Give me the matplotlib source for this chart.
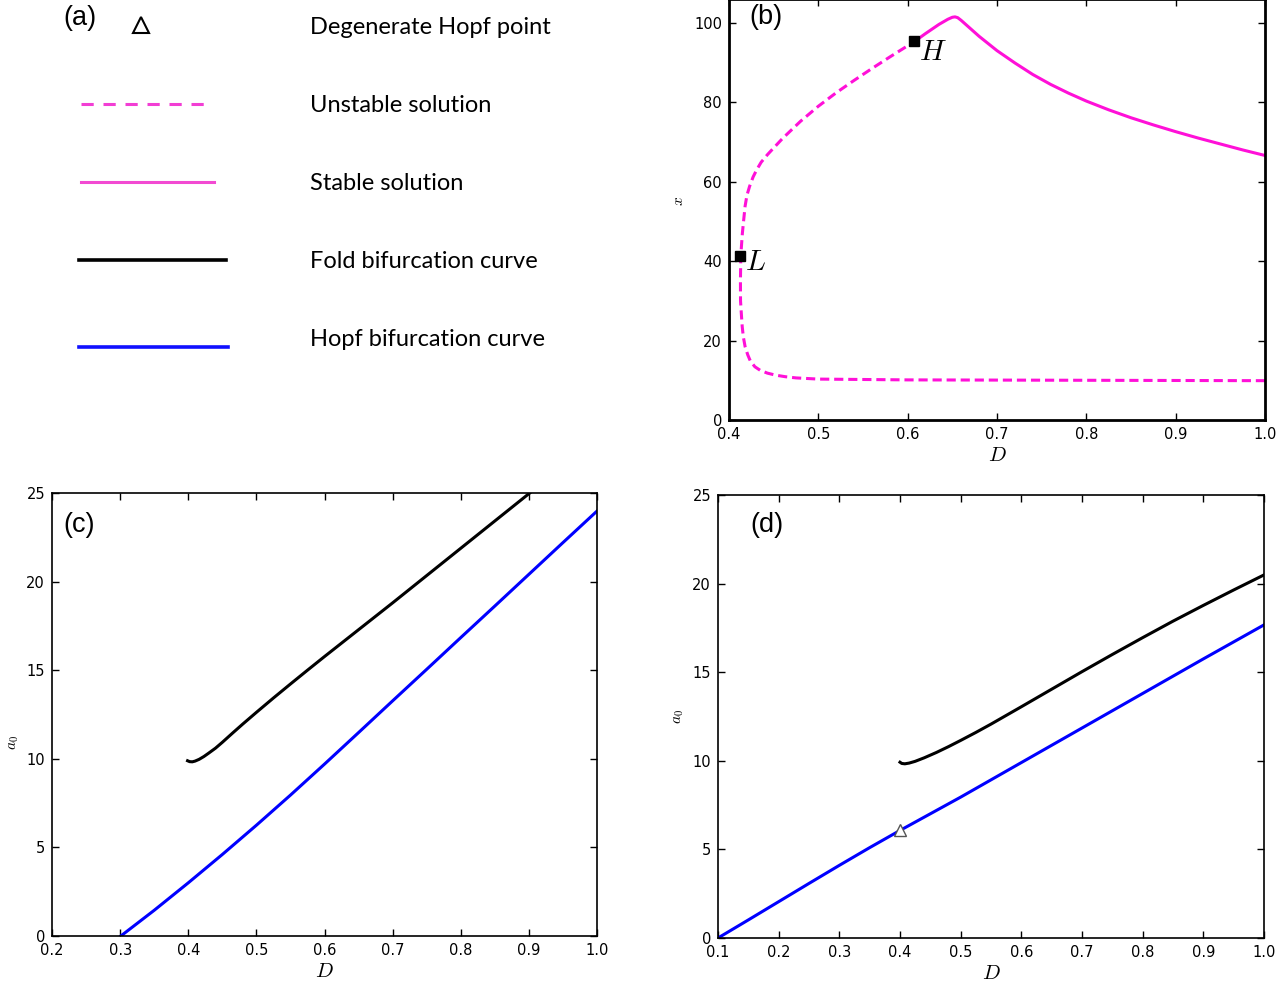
import matplotlib
matplotlib.use("Agg")
import matplotlib.pyplot as plt

plt.rcParams['mathtext.fontset'] = 'cm'
plt.rcParams['font.family'] = ['DejaVu Sans']

# ---------------- data ----------------
# panel (b): equilibrium branch x vs D
D_unstable = [1.0, 0.9, 0.8, 0.7, 0.6, 0.5, 0.475, 0.463, 0.452, 0.443, 0.435,
              0.429, 0.424, 0.421, 0.418, 0.416, 0.4148, 0.414, 0.4129, 0.4128,
              0.4132, 0.414, 0.415, 0.4165, 0.418, 0.420, 0.423, 0.427, 0.431,
              0.436, 0.443, 0.45, 0.46, 0.48, 0.50, 0.52, 0.54, 0.56, 0.58,
              0.6076]
x_unstable = [9.9, 9.95, 10.0, 10.05, 10.1, 10.3, 10.6, 10.9, 11.3, 11.8, 12.5,
              13.4, 14.8, 16.4, 18.5, 21.0, 23.5, 26.1, 30.0, 35.0,
              41.2, 44.0, 47.1, 50.5, 53.8, 56.5, 58.8, 61.2, 63.0,
              64.9, 66.8, 68.5, 70.9, 75.2, 79.0, 82.4, 85.5, 88.5, 91.4,
              95.3]
D_stable = [0.6076, 0.62, 0.635, 0.645, 0.65, 0.653, 0.656, 0.66, 0.67, 0.68,
            0.69, 0.70, 0.72, 0.74, 0.76, 0.78, 0.80, 0.825, 0.85, 0.875, 0.90,
            0.925, 0.95, 0.975, 1.0]
x_stable = [95.3, 97.3, 99.6, 100.9, 101.4, 101.5, 101.3, 100.6, 98.6, 96.6,
            94.8, 93.0, 89.9, 87.0, 84.5, 82.3, 80.3, 78.1, 76.1, 74.3, 72.6,
            71.0, 69.5, 68.0, 66.6]
special_names = ["H", "L"]
special_D = [0.6076, 0.412]
special_x = [95.3, 41.2]

# panel (c)
c_fold_D = [0.399, 0.402, 0.406, 0.41, 0.416, 0.423, 0.43, 0.44, 0.45, 0.465,
            0.48, 0.5, 0.525, 0.55, 0.575, 0.6, 0.7, 0.8, 0.9, 0.92]
c_fold_a = [9.89, 9.84, 9.83, 9.87, 9.97, 10.13, 10.32, 10.6, 10.93, 11.45,
            11.96, 12.62, 13.43, 14.22, 15.0, 15.77, 18.8, 21.88, 24.96, 25.6]
c_hopf_D = [0.301, 0.35, 0.4, 0.45, 0.5, 0.55, 0.6, 0.65, 0.7, 0.75, 0.8,
            0.85, 0.9, 0.95, 1.0]
c_hopf_a = [0.0, 1.45, 3.0, 4.6, 6.25, 7.95, 9.7, 11.48, 13.27, 15.05, 16.84,
            18.62, 20.41, 22.2, 23.98]

# panel (d)
d_fold_D = [0.4, 0.403, 0.408, 0.415, 0.425, 0.44, 0.46, 0.48, 0.5, 0.525,
            0.55, 0.6, 0.65, 0.7, 0.75, 0.8, 0.85, 0.9, 0.95, 1.0]
d_fold_a = [9.92, 9.85, 9.83, 9.87, 9.97, 10.17, 10.47, 10.8, 11.15, 11.6,
            12.07, 13.05, 14.04, 15.03, 16.0, 16.95, 17.88, 18.77, 19.64, 20.49]
d_hopf_D = [0.1, 0.15, 0.2, 0.25, 0.3, 0.35, 0.4, 0.5, 0.6, 0.7, 0.8, 0.9, 1.0]
d_hopf_a = [0.0, 1.02, 2.05, 3.08, 4.1, 5.1, 6.07, 7.95, 9.9, 11.85, 13.8,
            15.75, 17.67]
dh_D = [0.4]
dh_a = [6.07]

# legend panel (a)
legend_labels = ["Degenerate Hopf point", "Unstable solution", "Stable solution",
                 "Fold bifurcation curve", "Hopf bifurcation curve"]

MAG = '#ff10d8'
W, H = 1286, 982
fig = plt.figure(figsize=(W / 100, H / 100), dpi=100)


def add_ax(l, t, r, b):
    return fig.add_axes([l / W, 1 - b / H, (r - l) / W, (b - t) / H])


def style(ax, lw):
    for s in ax.spines.values():
        s.set_linewidth(lw)
    ax.tick_params(direction='in', top=True, right=True, length=5, width=1,
                   labelsize=10.5, pad=5)


PANEL_FONT = dict(fontsize=19.5, family='Liberation Sans', va='center', ha='left')

# ---------- panel (a): legend ----------
axa = add_ax(0, 0, 643, 491)
axa.set_xlim(0, 643)
axa.set_ylim(491, 0)
axa.axis('off')
rows_y = [28, 106, 184, 262, 340]
axa.plot([141], [25], marker='^', ms=11, mfc='white', mec='black', mew=1.5)
axa.plot([81, 204], [104, 104], color='#f23ed4', lw=2.2, dashes=(4, 3.2))
axa.plot([81, 214], [182, 182], color='#f24ad2', lw=2.2)
axa.plot([79, 226], [260, 260], color='black', lw=2.6)
axa.plot([79, 228], [347, 347], color='#1010ff', lw=2.6)
for lab, yy in zip(legend_labels, rows_y):
    axa.text(310, yy, lab, fontsize=17, family='Lato', va='center', ha='left')
fig.text(63 / W, 1 - 18 / H, '(a)', **PANEL_FONT)

# ---------- panel (b) ----------
axb = add_ax(729, -1, 1265, 420)
axb.plot(D_unstable, x_unstable, color=MAG, lw=2.2, dashes=(3, 1.6))
axb.plot(D_stable, x_stable, color=MAG, lw=2.2)
axb.plot(special_D, special_x, 's', color='black', ms=6.5, zorder=5)
offsets = [(3.5, -13), (3.5, -10)]
for nm, dx, xx, off in zip(special_names, special_D, special_x, offsets):
    axb.annotate('$' + nm + '$', (dx, xx), xytext=off, textcoords='offset points',
                 fontsize=21, va='baseline', ha='left')
axb.set_xlim(0.4, 1.0)
axb.set_ylim(0, 106)
axb.set_xticks([0.4, 0.5, 0.6, 0.7, 0.8, 0.9, 1.0])
axb.set_yticks([0, 20, 40, 60, 80, 100])
axb.set_xlabel('$D$', fontsize=15, labelpad=2)
axb.set_ylabel('$x$', fontsize=11)
axb.yaxis.set_label_coords(-43 / 536, 0.52)
style(axb, 2.0)
fig.text(749 / W, 1 - 17 / H, '(b)', **PANEL_FONT)

# ---------- panel (c) ----------
axc = add_ax(52, 493, 597, 936)
axc.plot(c_fold_D, c_fold_a, color='black', lw=2.2)
axc.plot(c_hopf_D, c_hopf_a, color='blue', lw=2.2)
axc.set_xlim(0.2, 1.0)
axc.set_ylim(0, 25)
axc.set_xticks([0.2, 0.3, 0.4, 0.5, 0.6, 0.7, 0.8, 0.9, 1.0])
axc.set_yticks([0, 5, 10, 15, 20, 25])
axc.set_xlabel('$D$', fontsize=15, labelpad=2)
axc.set_ylabel('$a_0$', fontsize=11)
axc.yaxis.set_label_coords(-31 / 545, (936 - 743) / 443)
style(axc, 1.2)
fig.text(63 / W, 1 - 525 / H, '(c)', **PANEL_FONT)

# ---------- panel (d) ----------
axd = add_ax(718, 495, 1264, 938)
axd.plot(d_fold_D, d_fold_a, color='black', lw=2.2)
axd.plot(d_hopf_D, d_hopf_a, color='blue', lw=2.2)
axd.plot(dh_D, dh_a, marker='^', ms=9, mfc='white', mec='#555555', mew=1,
         ls='none', zorder=5)
axd.set_xlim(0.1, 1.0)
axd.set_ylim(0, 25)
axd.set_xticks([0.1, 0.2, 0.3, 0.4, 0.5, 0.6, 0.7, 0.8, 0.9, 1.0])
axd.set_yticks([0, 5, 10, 15, 20, 25])
axd.set_xlabel('$D$', fontsize=15, labelpad=2)
axd.set_ylabel('$a_0$', fontsize=11)
axd.yaxis.set_label_coords(-32 / 546, (938 - 717) / 443)
style(axd, 1.2)
fig.text(750 / W, 1 - 525 / H, '(d)', **PANEL_FONT)

fig.savefig('out.png', dpi=100)
